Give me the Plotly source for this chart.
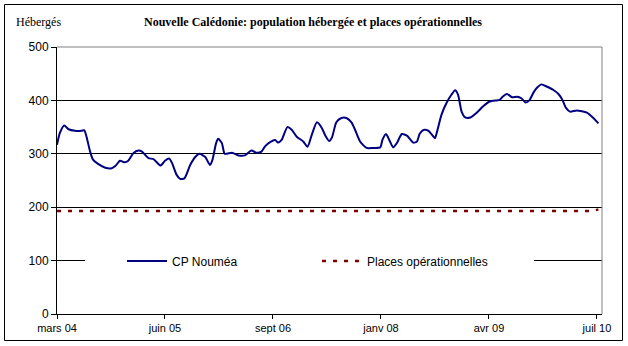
import plotly.graph_objects as go

# x positions in months since March 2004
noumea_x = [0.0, 0.4, 1.0, 1.6, 2.5, 3.4, 3.8, 4.1, 4.6, 5.0, 5.7, 6.7, 7.6, 8.1, 8.75, 9.4, 9.9,
            10.6, 11.3, 11.8, 12.7, 13.4, 14.4, 15.0, 15.6, 16.0, 16.6, 17.1, 17.7, 18.5, 19.2,
            19.8, 20.6, 21.25, 21.6, 22.1, 22.4, 22.9, 23.3, 24.3, 25.2, 26.1, 27.0, 27.7, 28.4,
            28.9, 29.6, 30.3, 30.7, 31.2, 32.0, 32.6, 33.3, 34.2, 34.8, 35.4, 36.1, 36.8, 37.2,
            37.8, 38.2, 38.8, 39.5, 40.2, 40.9, 41.4, 42.1, 43.0, 43.9, 44.9, 45.2, 45.7, 46.25,
            46.7, 47.2, 47.9, 48.6, 49.5, 50.0, 50.4, 51.0, 51.6, 52.3, 52.5, 52.8, 53.4, 54.1,
            54.8, 55.3, 55.7, 56.2, 56.7, 57.4, 58.3, 59.2, 60.1, 61.1, 61.5, 61.9, 62.5, 63.2,
            63.9, 64.5, 65.1, 65.6, 66.2, 66.7, 67.3, 68.0, 68.9, 69.65, 70.2, 70.7, 71.25, 72.2,
            73.6, 74.5, 75.2]
noumea_y = [317, 339, 353, 346, 343, 343, 344, 332, 304, 289, 281, 274, 273, 277, 287, 284, 287,
            301, 306, 304, 292, 290, 278, 287, 291, 282, 261, 253, 254, 279, 294,
            300, 294, 279, 289, 320, 328, 320, 300, 302, 297, 297, 306, 302, 304,
            314, 322, 326, 321, 326, 350, 345, 332, 323, 313, 336, 359, 348, 336,
            324, 331, 359, 367, 367, 359, 345, 323, 311, 311, 312, 326, 337, 323,
            312, 320, 337, 334, 321, 323, 338, 345, 343, 332, 329, 342, 373, 395,
            411, 419, 411, 379, 368, 368, 377, 389, 398, 400, 401, 407, 412, 406,
            407, 404, 396, 400, 415, 424, 430, 426, 420, 412, 401, 386, 379, 381,
            377, 367, 357]

places_x = [0.0, 74.4, 75.2]
places_y = [193, 193, 196]

tick_vals = [0, 15, 30, 45, 60, 75]
tick_text = ["mars 04", "juin 05", "sept 06", "janv 08", "avr 09", "juil 10"]
y_ticks = [0, 100, 200, 300, 400, 500]

SANS = "Liberation Sans, Arial, sans-serif"
SERIF = "Liberation Serif, Times New Roman, serif"

fig = go.Figure()
fig.add_trace(go.Scatter(x=noumea_x, y=noumea_y, mode="lines", name="CP Nouméa",
                         line=dict(color="#000080", width=2, shape="spline", smoothing=0.6)))
fig.add_trace(go.Scatter(x=places_x, y=places_y, mode="lines", name="Places opérationnelles",
                         line=dict(color="#800000", width=2.4, dash="4px,7px")))

W, H = 628, 346
L, R, T, B = 57, 602, 47, 314
pw, ph = R - L, B - T

def px(x):
    return (x - L) / pw

def py(y):
    return (B - y) / ph

shapes = [
    # white gap behind legend on the 100 gridline
    dict(type="rect", xref="paper", yref="paper", x0=px(85), x1=px(534), y0=py(266), y1=py(256),
         fillcolor="white", line=dict(width=0), layer="above"),
    # gray top and right borders of plot area
    dict(type="line", xref="paper", yref="paper", x0=0, x1=1, y0=1, y1=1,
         line=dict(color="#808080", width=1)),
    dict(type="line", xref="paper", yref="paper", x0=1, x1=1, y0=0, y1=1,
         line=dict(color="#808080", width=1)),
    # outer frame
    dict(type="rect", xref="paper", yref="paper", x0=px(4.5), x1=px(622.5), y0=py(340.5), y1=py(4.5),
         line=dict(color="black", width=1), fillcolor="rgba(0,0,0,0)"),
]

annotations = [
    dict(text="Hébergés", xref="paper", yref="paper", x=px(14), y=py(22), xanchor="left",
         yanchor="middle", showarrow=False, font=dict(family=SERIF, size=12, color="black")),
    dict(text="<b>Nouvelle Calédonie: population hébergée et places opérationnelles</b>",
         xref="paper", yref="paper", x=px(313), y=py(22), xanchor="center", yanchor="middle",
         showarrow=False, font=dict(family=SERIF, size=12, color="black")),
]

fig.update_layout(
    width=W, height=H,
    margin=dict(l=L, r=W - R, t=T, b=H - B),
    paper_bgcolor="white", plot_bgcolor="white",
    showlegend=True,
    legend=dict(orientation="h", x=px(122), xanchor="left", y=py(261), yanchor="middle",
                bgcolor="rgba(0,0,0,0)", font=dict(family=SANS, size=12, color="black"),
                itemwidth=40, entrywidth=140, entrywidthmode="pixels",
                traceorder="normal"),
    xaxis=dict(range=[0, 75.7], tickmode="array", tickvals=tick_vals, ticktext=tick_text,
               showgrid=False, zeroline=False, showline=True, linecolor="black", linewidth=1,
               ticks="outside", ticklen=4, tickcolor="black",
               tickfont=dict(family=SANS, size=11, color="black")),
    yaxis=dict(range=[0, 500], tickmode="array", tickvals=y_ticks,
               showgrid=True, gridcolor="black", gridwidth=1, zeroline=False,
               showline=True, linecolor="black", linewidth=1,
               ticks="outside", ticklen=5, tickcolor="black",
               tickfont=dict(family=SANS, size=12, color="black")),
    shapes=shapes, annotations=annotations,
)

fig.write_html("out.html")
